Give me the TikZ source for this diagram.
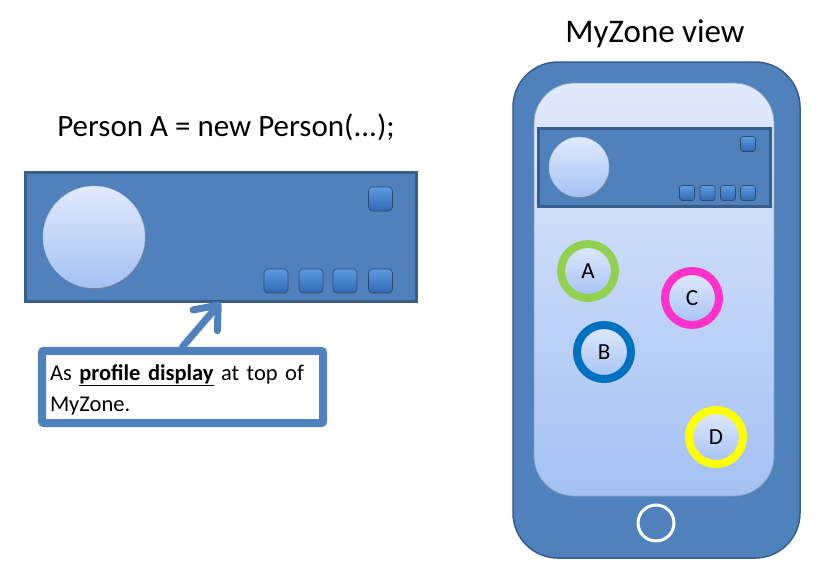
\documentclass[tikz,border=0pt]{standalone}
\usepackage{fontspec}
\setmainfont{Carlito}
\usetikzlibrary{arrows.meta,shadows}
\definecolor{boxblue}{HTML}{4F81BD}
\definecolor{edgeblue}{HTML}{385D8A}
\definecolor{paleblue}{HTML}{E1EAFC}
\definecolor{lightblue}{HTML}{A4C1F4}
\definecolor{btntop}{HTML}{5D9BE0}
\definecolor{btnbot}{HTML}{2F69B3}
\definecolor{ringA}{HTML}{92D050}
\definecolor{ringB}{HTML}{0070C0}
\definecolor{ringC}{HTML}{FF33CC}
\definecolor{ringD}{HTML}{FFFF00}
\tikzset{
  panel/.style={draw=edgeblue, fill=boxblue, inner sep=0pt},
  face/.style={circle, draw=edgeblue!40, line width=0.4pt, top color=paleblue, bottom color=lightblue,
    inner sep=0pt, drop shadow={opacity=0.35, shadow xshift=1pt, shadow yshift=-2pt}},
  btn/.style={rounded corners=4pt, draw=edgeblue!80!black, line width=0.6pt, top color=btntop,
    bottom color=btnbot, minimum size=24pt, inner sep=0pt,
    drop shadow={opacity=0.3, shadow xshift=0.5pt, shadow yshift=-1.5pt}},
  minibtn/.style={btn, rounded corners=2.5pt, minimum size=15pt},
  ring/.style={circle, line width=8pt, minimum size=54pt, inner sep=0pt, top color=paleblue,
    bottom color=lightblue, font=\fontsize{23}{27}\selectfont,
    drop shadow={opacity=0.3, shadow xshift=1pt, shadow yshift=-2pt}},
}
\begin{document}
\begin{tikzpicture}[x=1pt, y=-1pt]
\useasboundingbox (0,0) rectangle (827,574);

    % left: the object
    \node (title) at (226,127) {\fontsize{31}{36}\selectfont Person A = new Person(...);};
    \node[panel, line width=3pt, minimum width=391pt, minimum height=129pt] (prof) at (220.5,236.5) {};
    \node[face, minimum size=102pt] (pic) at (94,237) {};
    \node[btn] (sq0) at (380.5,199) {};
    \node[btn] (sq1) at (276,281) {};
    \node[btn] (sq2) at (311,281) {};
    \node[btn] (sq3) at (345,281) {};
    \node[btn] (sq4) at (380.5,281) {};

    \node[draw=boxblue, fill=white, line width=8pt, rounded corners=2pt, minimum width=281pt,
      minimum height=68pt, text width=265pt, align=left, inner sep=8pt,
      font=\fontsize{22.5}{31}\selectfont] (note) at (182.5,387)
      {\strut As \underline{\textbf{profile display}} at top of\\MyZone.};

    % right: the phone
    \node (view) at (655,34) {\fontsize{33}{38}\selectfont MyZone view};
    \node[panel, line width=1.5pt, rounded corners=45pt, minimum width=287pt, minimum height=496pt] (phone) at (656.5,310) {};
    \node[draw=edgeblue!60, line width=0.8pt, rounded corners=40pt, top color=paleblue, bottom color=lightblue,
      minimum width=240pt, minimum height=413pt, inner sep=0pt] (screen) at (654,289.5) {};
    \node[circle, draw=white, line width=3pt, minimum size=36pt, inner sep=0pt] (home) at (656,523) {};

    \node[panel, line width=3pt, minimum width=232pt, minimum height=78pt] (mini) at (654,167) {};
    \node[face, minimum size=60pt] (minipic) at (579,167) {};
    \node[minibtn] (ms0) at (748,144) {};
    \node[minibtn] (ms1) at (687,193) {};
    \node[minibtn] (ms2) at (707.5,193) {};
    \node[minibtn] (ms3) at (728,193) {};
    \node[minibtn] (ms4) at (748,193) {};

    \node[ring, draw=ringA] (a) at (588,271) {A};
    \node[ring, draw=ringC] (c) at (692,298) {C};
    \node[ring, draw=ringB] (b) at (604,352) {B};
    \node[ring, draw=ringD] (d) at (716,437) {D};

\draw[boxblue, line width=7pt, line cap=round, -{Straight Barb[length=20pt, width=32pt, round]}] (note.north) -- (prof.south);

\end{tikzpicture}
\end{document}
